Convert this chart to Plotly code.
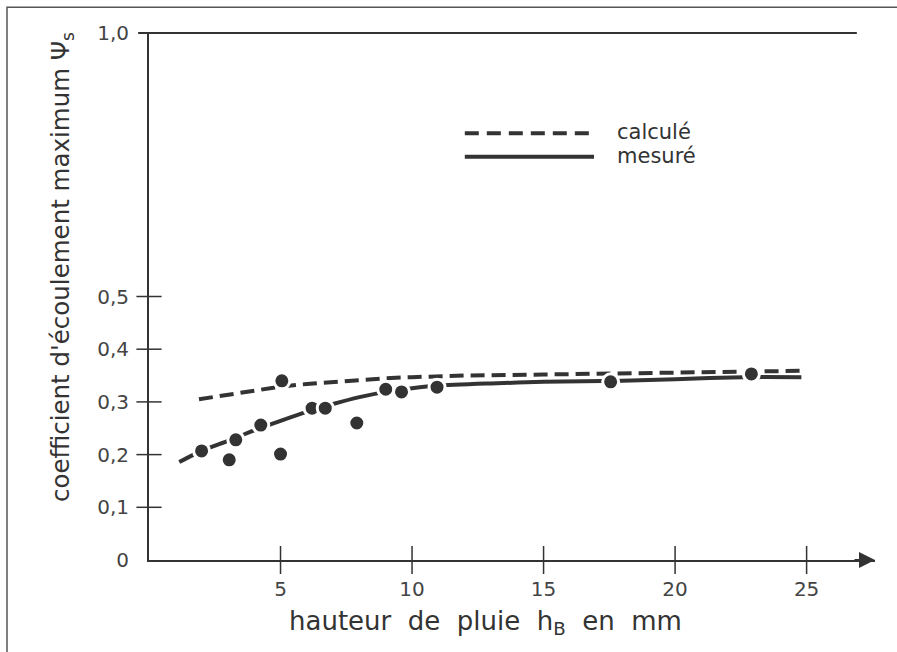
import plotly.graph_objects as go

# ---- data ----
meas_x = [2.0, 3.05, 3.3, 4.25, 5.0, 5.05, 6.2, 6.7, 7.9, 9.0, 9.6, 10.95, 17.55, 22.9]
meas_y = [0.207, 0.19, 0.228, 0.256, 0.201, 0.340, 0.288, 0.288, 0.260, 0.324, 0.319, 0.328, 0.338, 0.353]

calc_curve_x = [1.9, 3, 4, 5, 6, 7, 8, 9, 10, 12, 15, 18, 20, 22, 24.8]
calc_curve_y = [0.305, 0.314, 0.322, 0.329, 0.334, 0.338, 0.342, 0.345, 0.347, 0.350, 0.352, 0.354, 0.355, 0.357, 0.359]

mes_curve_x = [1.15, 2, 3, 4, 5, 6, 7, 8, 9, 10, 11, 13, 15, 18, 20, 22.6, 24.8]
mes_curve_y = [0.186, 0.207, 0.226, 0.246, 0.264, 0.281, 0.296, 0.309, 0.319, 0.326, 0.331, 0.335, 0.338, 0.340, 0.343, 0.347, 0.347]

x_ticks = [5, 10, 15, 20, 25]
y_ticks = [0, 0.1, 0.2, 0.3, 0.4, 0.5, 1.0]
y_ticktext = ["0", "0,1", "0,2", "0,3", "0,4", "0,5", "1,0"]
y_cross_ticks = [0.1, 0.2, 0.3, 0.4, 0.5]

INK = "#333333"
FONT = "DejaVu Sans"

fig = go.Figure()

# crossing tick marks drawn as line markers on the axes
fig.add_trace(go.Scatter(x=x_ticks, y=[0] * len(x_ticks), mode="markers", cliponaxis=False,
                         marker=dict(symbol="line-ns-open", size=20, color=INK,
                                     line=dict(color=INK, width=1.5)),
                         showlegend=False, hoverinfo="skip"))
fig.add_trace(go.Scatter(x=[0] * len(y_cross_ticks), y=y_cross_ticks, mode="markers", cliponaxis=False,
                         marker=dict(symbol="line-ew-open", size=18, color=INK,
                                     line=dict(color=INK, width=1.5)),
                         showlegend=False, hoverinfo="skip"))

fig.add_trace(go.Scatter(x=calc_curve_x, y=calc_curve_y, mode="lines",
                         line=dict(color=INK, width=4, dash="14px,7px"),
                         showlegend=False, hoverinfo="skip"))
fig.add_trace(go.Scatter(x=mes_curve_x, y=mes_curve_y, mode="lines",
                         line=dict(color=INK, width=4, shape="spline", smoothing=0.6),
                         showlegend=False, hoverinfo="skip"))
fig.add_trace(go.Scatter(x=meas_x, y=meas_y, mode="markers",
                         marker=dict(color=INK, size=16, line=dict(color="white", width=3)),
                         showlegend=False))

shapes = []
# top line at 1,0
shapes.append(dict(type="line", xref="paper", yref="paper", x0=-0.015, x1=0.975, y0=1.0, y1=1.0,
                   line=dict(color=INK, width=1.8)))
# outer frame (left and top visible)
shapes.append(dict(type="rect", xref="paper", yref="paper", x0=-0.1956, x1=1.5,
                   y0=-0.5, y1=1.049, line=dict(color="#555555", width=1.5)))
# legend samples
shapes.append(dict(type="line", xref="paper", yref="paper", x0=0.435, x1=0.613,
                   y0=0.81, y1=0.81, line=dict(color=INK, width=4, dash="14px,8px")))
shapes.append(dict(type="line", xref="paper", yref="paper", x0=0.435, x1=0.613,
                   y0=0.765, y1=0.765, line=dict(color=INK, width=4)))

annotations = [
    dict(text="calculé", xref="paper", yref="paper", x=0.642, y=0.812,
         xanchor="left", yanchor="middle", showarrow=False,
         font=dict(family=FONT, size=21, color=INK)),
    dict(text="mesuré", xref="paper", yref="paper", x=0.642, y=0.767,
         xanchor="left", yanchor="middle", showarrow=False,
         font=dict(family=FONT, size=21, color=INK)),
    dict(text="hauteur\u00a0 de\u00a0 pluie\u00a0 h<sub>B</sub>\u00a0 en\u00a0 mm", xref="paper", yref="paper",
         x=0.463, y=0, yshift=-62, xanchor="center", yanchor="middle", showarrow=False,
         font=dict(family=FONT, size=26, color=INK)),
    dict(text="coefficient d'écoulement maximum Ψ<sub>s</sub>", xref="paper", yref="paper",
         x=0, xshift=-87, y=0.556, textangle=-90, xanchor="center", yanchor="middle",
         showarrow=False, font=dict(family=FONT, size=24.5, color=INK)),
    # arrow head at the end of the x axis
    dict(x=27.6, y=0, xref="x", yref="y", ax=-22, ay=0, text="", showarrow=True,
         arrowhead=2, arrowsize=1.6, arrowwidth=2, arrowcolor=INK),
]

fig.update_layout(
    width=897, height=652,
    margin=dict(l=149, r=22, t=33, b=92),
    paper_bgcolor="white", plot_bgcolor="white",
    shapes=shapes, annotations=annotations,
    font=dict(family=FONT, color=INK),
    xaxis=dict(range=[0, 27.6], tickvals=x_ticks, ticks="", showgrid=False, zeroline=False,
               showline=True, linecolor=INK, linewidth=2, ticklabelstandoff=10,
               tickfont=dict(family=FONT, size=20, color="#444444")),
    yaxis=dict(range=[0, 1.0], tickvals=y_ticks, ticktext=y_ticktext, ticks="",
               showgrid=False, zeroline=False, showline=True, linecolor=INK, linewidth=2,
               ticklabelstandoff=14, tickfont=dict(family=FONT, size=20, color="#444444")),
)

fig.write_html("out.html", config={"displayModeBar": False})
